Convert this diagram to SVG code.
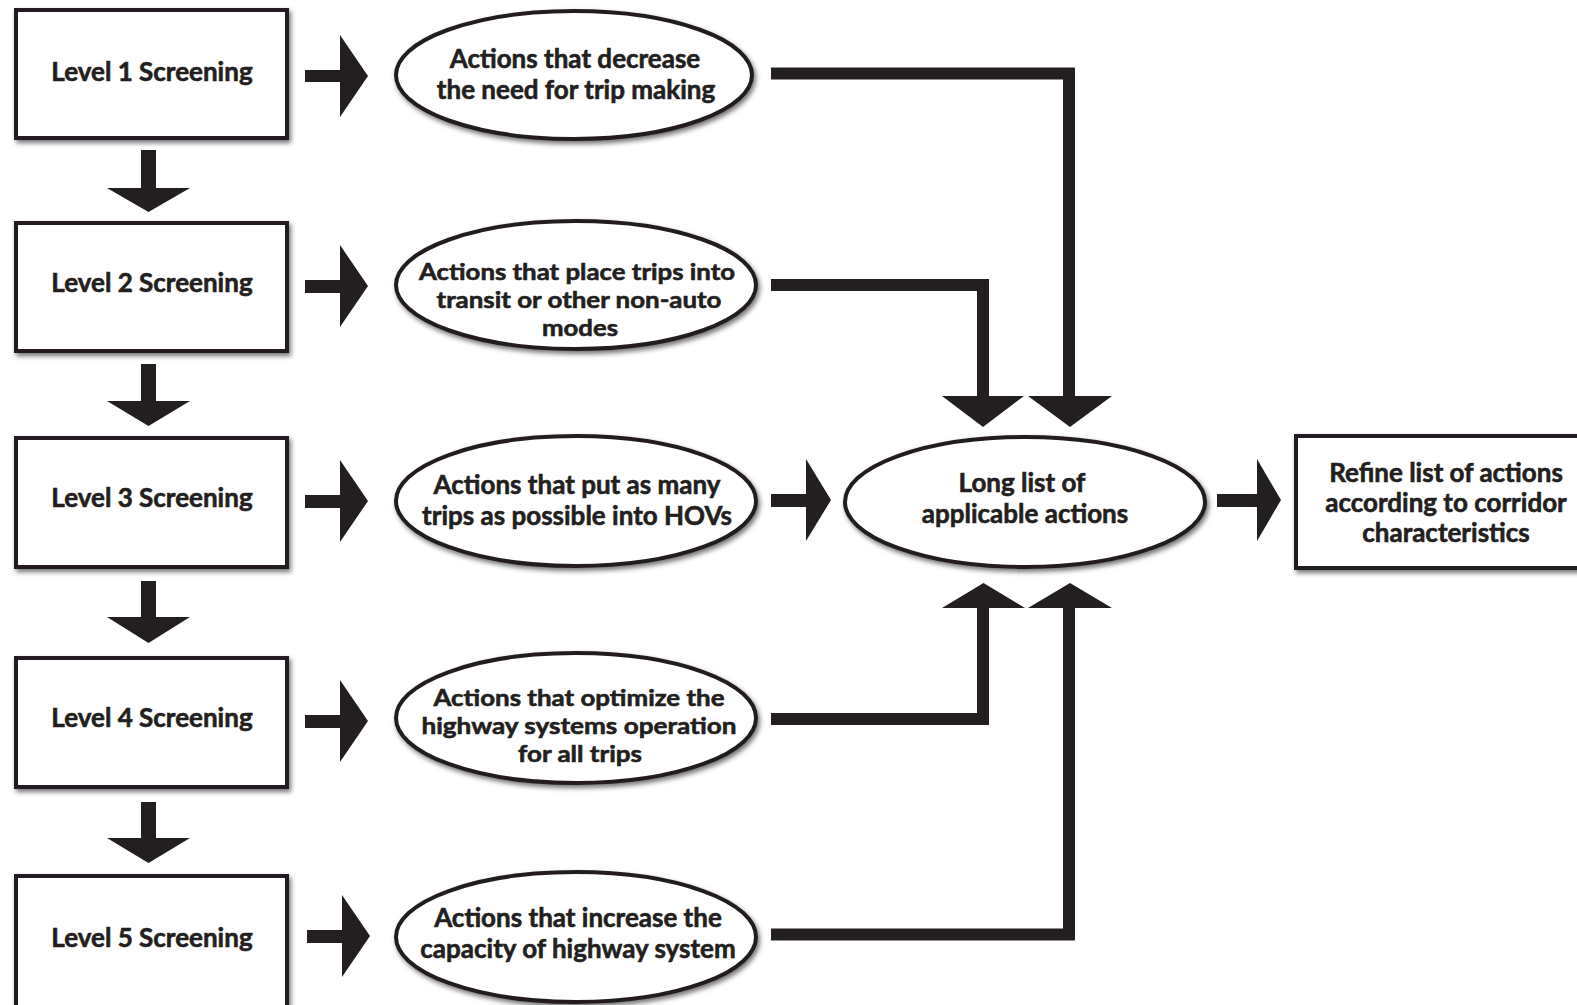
<svg xmlns="http://www.w3.org/2000/svg" width="1577" height="1005" viewBox="0 0 1577 1005">
<defs>
<filter id="sh" x="-10%" y="-10%" width="125%" height="130%">
<feDropShadow dx="2" dy="3" stdDeviation="2.5" flood-color="#000" flood-opacity="0.55"/>
</filter>
</defs>
<style>
.box{fill:#fff;stroke:#231f20;stroke-width:4}
.ell{fill:#fff;stroke:#231f20;stroke-width:4}
.t{font-family:Lato,"Open Sans","Liberation Sans",sans-serif;font-weight:700;font-size:26px;fill:#231f20;stroke:#231f20;stroke-width:0.6;text-anchor:middle}
.s{font-size:23px}
.ar{fill:#231f20}
.ln{fill:none;stroke:#231f20;stroke-width:12;stroke-linejoin:miter;stroke-linecap:butt}
</style>
<rect width="1577" height="1005" fill="#fff"/>

<g id="level1"><rect class="box" x="16" y="10" width="271" height="128" filter="url(#sh)"/><text class="t" x="152" y="81">Level 1 Screening</text></g>
<g id="level2"><rect class="box" x="16" y="223" width="271" height="128" filter="url(#sh)"/><text class="t" x="152" y="292">Level 2 Screening</text></g>
<g id="level3"><rect class="box" x="16" y="438" width="271" height="129" filter="url(#sh)"/><text class="t" x="152" y="507">Level 3 Screening</text></g>
<g id="level4"><rect class="box" x="16" y="658" width="271" height="129" filter="url(#sh)"/><text class="t" x="152" y="727">Level 4 Screening</text></g>
<g id="level5"><rect class="box" x="16" y="876" width="271" height="140" filter="url(#sh)"/><text class="t" x="152" y="947">Level 5 Screening</text></g>

<g id="act1"><ellipse class="ell" cx="574" cy="75" rx="178" ry="64" filter="url(#sh)"/><text class="t" x="575" y="68">Actions that decrease</text><text class="t" x="576" y="99">the need for trip making</text></g>
<g id="act2"><ellipse class="ell" cx="576" cy="285" rx="180" ry="64" filter="url(#sh)"/><text class="t s" x="577" y="280" textLength="316" lengthAdjust="spacingAndGlyphs">Actions that place trips into</text><text class="t s" x="579" y="308" textLength="285" lengthAdjust="spacingAndGlyphs">transit or other non-auto</text><text class="t s" x="580" y="336" textLength="76" lengthAdjust="spacingAndGlyphs">modes</text></g>
<g id="act3"><ellipse class="ell" cx="576" cy="501" rx="180" ry="65" filter="url(#sh)"/><text class="t" x="577" y="494">Actions that put as many</text><text class="t" x="577" y="525">trips as possible into HOVs</text></g>
<g id="act4"><ellipse class="ell" cx="576" cy="718" rx="180" ry="65" filter="url(#sh)"/><text class="t s" x="579" y="706" textLength="291" lengthAdjust="spacingAndGlyphs">Actions that optimize the</text><text class="t s" x="579" y="734" textLength="315" lengthAdjust="spacingAndGlyphs">highway systems operation</text><text class="t s" x="580" y="762" textLength="124" lengthAdjust="spacingAndGlyphs">for all trips</text></g>
<g id="act5"><ellipse class="ell" cx="576" cy="937" rx="180" ry="65" filter="url(#sh)"/><text class="t" x="578" y="927">Actions that increase the</text><text class="t" x="578" y="958">capacity of highway system</text></g>

<g id="longlist"><ellipse class="ell" cx="1025" cy="502" rx="180" ry="65" filter="url(#sh)"/><text class="t" x="1022" y="492">Long list of</text><text class="t" x="1025" y="523">applicable actions</text></g>
<g id="refine"><rect class="box" x="1296" y="436" width="300" height="132" filter="url(#sh)"/><text class="t" x="1446" y="482">Refine list of actions</text><text class="t" x="1446" y="512">according to corridor</text><text class="t" x="1446" y="542">characteristics</text></g>

<g id="connectors">
<path class="ar" d="M141,150 H156 V188 H190 L148.5,212 L107,188 H141 Z"/>
<path class="ar" d="M141,364 H156 V401 H190 L148.5,426 L107,401 H141 Z"/>
<path class="ar" d="M141,581 H156 V617 H190 L148.5,643 L107,617 H141 Z"/>
<path class="ar" d="M141,802 H156 V838 H190 L148.5,863 L107,838 H141 Z"/>
<path class="ar" d="M305,70 H340 V35 L368,76 L340,117 V82 H305 Z"/>
<path class="ar" d="M305,280 H340 V245 L368,286 L340,327 V293 H305 Z"/>
<path class="ar" d="M305,495 H340 V460 L368,501 L340,542 V508 H305 Z"/>
<path class="ar" d="M305,715 H340 V680 L368,721 L340,762 V728 H305 Z"/>
<path class="ar" d="M307,930 H342 V895 L370,936 L342,977 V943 H307 Z"/>
<polyline class="ln" points="771,73.5 1069,73.5 1069,397"/>
<path class="ar" d="M1028,396 H1112 L1070,427 Z"/>
<polyline class="ln" points="771,285 983,285 983,397"/>
<path class="ar" d="M942,396 H1024 L983,427 Z"/>
<polyline class="ln" points="771,719 983,719 983,607"/>
<path class="ar" d="M942,608 H1025 L983.5,583 Z"/>
<polyline class="ln" points="771,934.5 1069,934.5 1069,607"/>
<path class="ar" d="M1028,608 H1112 L1070,583 Z"/>
<path class="ar" d="M771,494 H806 V459 L831,500 L806,541 V507 H771 Z"/>
<path class="ar" d="M1217,494 H1257 V459 L1281,500 L1257,541 V507 H1217 Z"/>
</g>
</svg>
